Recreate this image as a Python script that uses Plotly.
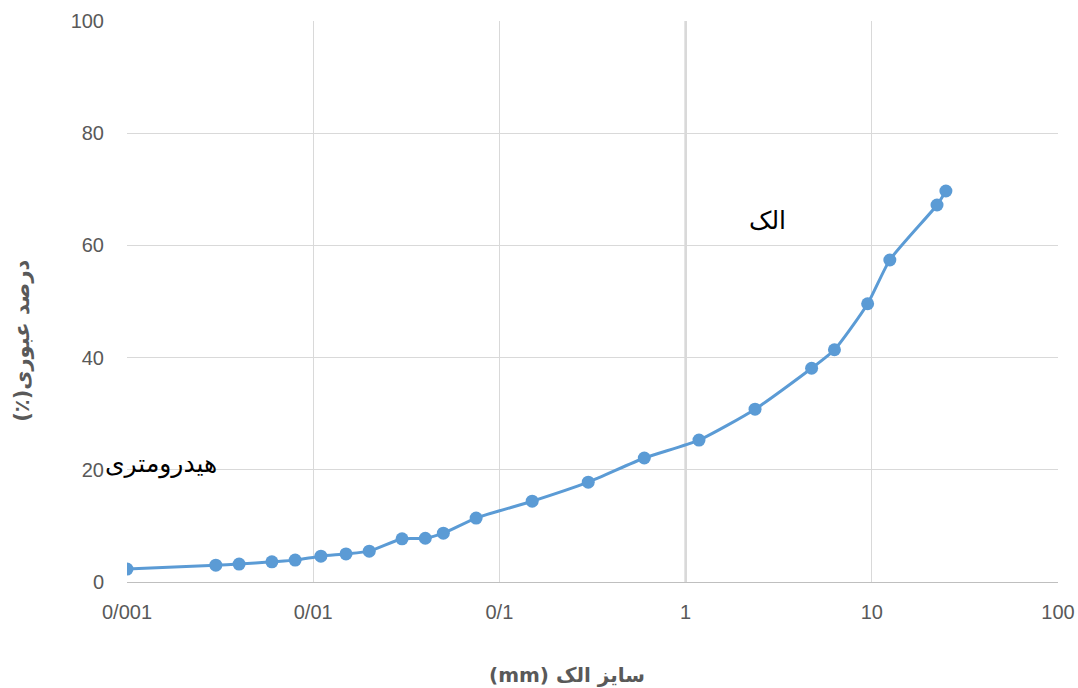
import math
import plotly.graph_objects as go

# Grain-size distribution: sieve size (mm) vs. percent passing
sieve_size_mm = [0.001, 0.003, 0.004, 0.006, 0.008, 0.011, 0.015, 0.020, 0.030, 0.040,
                 0.050, 0.075, 0.150, 0.300, 0.600, 1.18, 2.36, 4.75, 6.3, 9.5,
                 12.5, 22.4, 25.0]
percent_passing = [2.3, 3.0, 3.2, 3.6, 3.9, 4.6, 5.0, 5.5, 7.7, 7.8,
                   8.7, 11.4, 14.4, 17.8, 22.1, 25.3, 30.8, 38.1, 41.4, 49.6,
                   57.4, 67.2, 69.7]

x_tick_vals = [0.001, 0.01, 0.1, 1, 10, 100]
x_tick_text = ["0/001", "0/01", "0/1", "1", "10", "100"]
y_tick_vals = [0, 20, 40, 60, 80, 100]

RLM = "\u200f"
blue = "#5B9BD5"
grid = "#d9d9d9"
label_color = "#595959"
arabic_font = "DejaVu Sans"
tick_font = "Liberation Sans"

fig = go.Figure()
fig.add_trace(go.Scatter(
    x=sieve_size_mm, y=percent_passing,
    mode="lines+markers",
    line=dict(color=blue, width=3, shape="spline", smoothing=0.6),
    marker=dict(color=blue, size=13),
    showlegend=False,
))

# darker vertical line where the value axis crosses (x = 1)
fig.add_shape(type="line", xref="x", yref="paper", x0=1, x1=1, y0=0, y1=1,
              line=dict(color="#bfbfbf", width=2), layer="below")

# text labels inside the plot (annotation x on a log axis is given as log10)
fig.add_annotation(x=math.log10(2.75), xref="x", y=64.5, yref="y", text="الک",
                   showarrow=False, font=dict(family=arabic_font, size=25, color="black"))
fig.add_annotation(x=math.log10(0.00152), xref="x", y=21.0, yref="y", text="هیدرومتری",
                   showarrow=False, font=dict(family=arabic_font, size=25, color="black"))

# axis titles
fig.add_annotation(x=0.4726, xref="paper", y=-0.166, yref="paper",
                   text="<b>(mm) سایز الک</b>", showarrow=False,
                   xanchor="center", yanchor="middle",
                   font=dict(family=arabic_font, size=20, color=label_color))
fig.add_annotation(x=-0.1128, xref="paper", y=0.43, yref="paper",
                   text="<b>" + RLM + "درصد عبوری(٪)" + RLM + "</b>", showarrow=False,
                   textangle=-90, xanchor="center", yanchor="middle",
                   font=dict(family=arabic_font, size=21, color=label_color))

fig.update_layout(
    width=1078, height=688,
    margin=dict(l=127, r=20, t=21, b=106),
    paper_bgcolor="white", plot_bgcolor="white",
    font=dict(family=tick_font, size=20, color=label_color),
    xaxis=dict(
        type="log", range=[-3, 2], automargin=False,
        tickvals=x_tick_vals, ticktext=x_tick_text,
        showgrid=True, gridcolor=grid, gridwidth=1,
        showline=True, linecolor="#bfbfbf", linewidth=1,
        zeroline=False, ticks="", ticklabelstandoff=12,
        tickfont=dict(family=tick_font, size=20, color=label_color),
    ),
    yaxis=dict(
        range=[0, 100], tickvals=y_tick_vals, automargin=False,
        showgrid=True, gridcolor=grid, gridwidth=1,
        zeroline=False, showline=False, ticks="", ticklabelstandoff=22,
        tickfont=dict(family=tick_font, size=20, color=label_color),
    ),
)

fig.write_html("out.html")
